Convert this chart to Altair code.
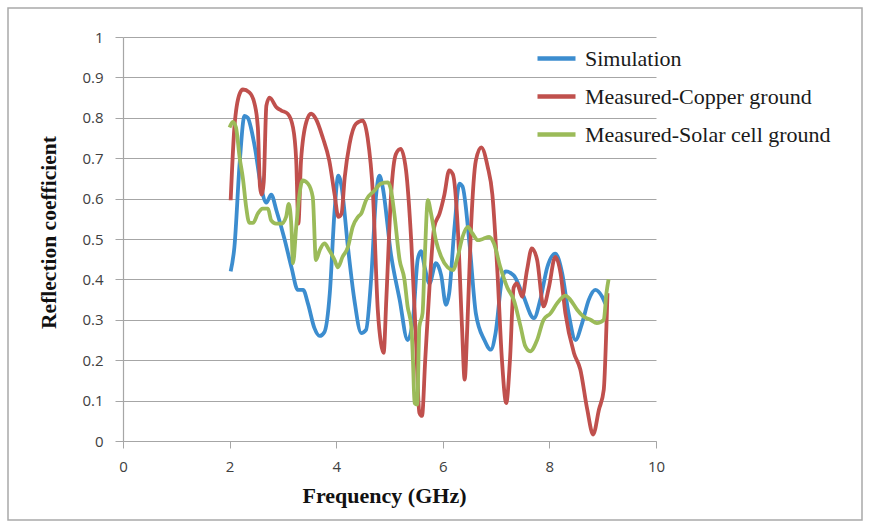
import altair as alt
import pandas as pd

# Reflection coefficient vs frequency for three series
series_names = ["Simulation", "Measured-Copper ground", "Measured-Solar cell ground"]
series_colors = ["#3C8DCF", "#C0504D", "#9BBB59"]

sim_freq = [2.02, 2.09, 2.19, 2.28, 2.34, 2.47, 2.59, 2.69, 2.78, 2.88, 3.03, 3.16, 3.28, 3.38,
            3.47, 3.59, 3.69, 3.78, 3.88, 3.97, 4.04, 4.10, 4.22, 4.34, 4.47, 4.56, 4.66, 4.75,
            4.81, 4.87, 5.03, 5.19, 5.34, 5.44, 5.53, 5.59, 5.66, 5.75, 5.87, 5.97, 6.06, 6.12,
            6.22, 6.31, 6.37, 6.50, 6.62, 6.78, 6.90, 6.99, 7.11, 7.18, 7.33, 7.49, 7.71, 7.83,
            7.96, 8.11, 8.24, 8.36, 8.49, 8.61, 8.74, 8.86, 8.99, 9.05]
sim_val = [0.42, 0.48, 0.69, 0.805, 0.80, 0.73, 0.63, 0.59, 0.61, 0.57, 0.50, 0.43, 0.374, 0.374,
           0.34, 0.28, 0.26, 0.27, 0.366, 0.57, 0.657, 0.63, 0.48, 0.35, 0.267, 0.275, 0.41, 0.61,
           0.657, 0.63, 0.46, 0.35, 0.25, 0.30, 0.45, 0.47, 0.43, 0.39, 0.44, 0.41, 0.337, 0.366,
           0.53, 0.637, 0.63, 0.49, 0.316, 0.25, 0.226, 0.267, 0.40, 0.42, 0.41, 0.366, 0.304, 0.35,
           0.43, 0.464, 0.415, 0.316, 0.25, 0.29, 0.35, 0.374, 0.357, 0.34]

cu_freq = [2.02, 2.09, 2.19, 2.25, 2.37, 2.47, 2.53, 2.57, 2.60, 2.64, 2.69, 2.75, 2.88, 2.97,
           3.09, 3.19, 3.25, 3.29, 3.34, 3.44, 3.53, 3.62, 3.75, 3.87, 3.97, 4.04, 4.10, 4.16,
           4.25, 4.37, 4.50, 4.59, 4.69, 4.78, 4.84, 4.89, 4.94, 5.03, 5.12, 5.21, 5.31, 5.41,
           5.50, 5.56, 5.61, 5.67, 5.75, 5.84, 5.94, 6.03, 6.12, 6.19, 6.28, 6.36, 6.41, 6.46,
           6.53, 6.62, 6.72, 6.84, 6.93, 7.02, 7.11, 7.19, 7.26, 7.33, 7.39, 7.49, 7.58, 7.67,
           7.77, 7.89, 7.99, 8.11, 8.21, 8.30, 8.46, 8.58, 8.71, 8.82, 8.93, 9.02, 9.07, 9.09]
cu_val = [0.596, 0.776, 0.86, 0.87, 0.863, 0.834, 0.776, 0.63, 0.61, 0.64, 0.83, 0.85, 0.826, 0.818,
          0.81, 0.776, 0.694, 0.538, 0.694, 0.79, 0.81, 0.797, 0.75, 0.694, 0.61, 0.555, 0.563, 0.653,
          0.735, 0.785, 0.793, 0.75, 0.61, 0.325, 0.242, 0.218, 0.35, 0.61, 0.71, 0.723, 0.67, 0.49,
          0.24, 0.07, 0.062, 0.2, 0.38, 0.53, 0.563, 0.61, 0.67, 0.66, 0.53, 0.283, 0.152, 0.283,
          0.53, 0.694, 0.727, 0.68, 0.61, 0.43, 0.2, 0.094, 0.2, 0.38, 0.39, 0.357, 0.423, 0.477,
          0.448, 0.333, 0.38, 0.456, 0.415, 0.316, 0.218, 0.177, 0.078, 0.016, 0.078, 0.127, 0.283, 0.366]

sol_freq = [2.00, 2.06, 2.12, 2.19, 2.25, 2.31, 2.37, 2.44, 2.53, 2.62, 2.72, 2.78, 2.87, 2.97,
            3.06, 3.11, 3.16, 3.19, 3.25, 3.31, 3.37, 3.47, 3.56, 3.62, 3.69, 3.78, 3.87, 3.97,
            4.03, 4.12, 4.22, 4.31, 4.41, 4.47, 4.56, 4.72, 4.84, 4.97, 5.03, 5.09, 5.19, 5.28,
            5.34, 5.41, 5.44, 5.47, 5.52, 5.56, 5.62, 5.66, 5.72, 5.78, 5.87, 5.97, 6.09, 6.19,
            6.28, 6.37, 6.47, 6.56, 6.66, 6.75, 6.87, 6.96, 7.08, 7.21, 7.33, 7.46, 7.55, 7.64,
            7.77, 7.89, 8.02, 8.14, 8.30, 8.39, 8.52, 8.64, 8.77, 8.89, 9.02, 9.07, 9.11]
sol_val = [0.776, 0.79, 0.776, 0.70, 0.65, 0.58, 0.54, 0.54, 0.563, 0.575, 0.575, 0.546, 0.538, 0.538,
           0.555, 0.587, 0.53, 0.44, 0.53, 0.61, 0.645, 0.637, 0.604, 0.448, 0.472, 0.489, 0.472, 0.448,
           0.43, 0.456, 0.48, 0.53, 0.555, 0.563, 0.596, 0.62, 0.637, 0.64, 0.62, 0.563, 0.448, 0.40,
           0.333, 0.283, 0.20, 0.094, 0.09, 0.283, 0.316, 0.448, 0.596, 0.563, 0.497, 0.456, 0.43, 0.423,
           0.456, 0.505, 0.53, 0.513, 0.497, 0.50, 0.505, 0.489, 0.43, 0.38, 0.35, 0.283, 0.234, 0.222,
           0.25, 0.30, 0.316, 0.34, 0.36, 0.35, 0.325, 0.308, 0.30, 0.292, 0.30, 0.366, 0.40]

x_ticks = [0, 2, 4, 6, 8, 10]
y_ticks = [0, 0.1, 0.2, 0.3, 0.4, 0.5, 0.6, 0.7, 0.8, 0.9, 1]

rows = []
for name, fs, vs in zip(series_names, [sim_freq, cu_freq, sol_freq], [sim_val, cu_val, sol_val]):
    assert len(fs) == len(vs)
    for i, (f, v) in enumerate(zip(fs, vs)):
        rows.append({"series": name, "order": i, "freq": f, "value": v})
df = pd.DataFrame(rows)

W, H = 533, 404
GRID = "#a6a6a6"

lines = alt.Chart(df).mark_line(strokeWidth=3.8, interpolate="monotone").encode(
    x=alt.X("freq:Q",
            scale=alt.Scale(domain=[0, 10], nice=False),
            axis=alt.Axis(values=x_ticks, grid=False, title="Frequency (GHz)", labelFlush=False,
                          titleX=261, titleY=54, titleBaseline="middle",
                          titleFont="Liberation Serif", titleFontSize=22, titleFontWeight="bold",
                          titleColor="#111111")),
    y=alt.Y("value:Q",
            scale=alt.Scale(domain=[0, 1], nice=False),
            axis=alt.Axis(values=y_ticks, format="~g", title="Reflection coefficient",
                          titleX=-74, titleY=195, titleAngle=270, titleAlign="center",
                          titleBaseline="middle",
                          titleFont="Liberation Serif", titleFontSize=21.5, titleFontWeight="bold",
                          titleColor="#111111", tickSize=8, labelPadding=12)),
    color=alt.Color("series:N",
                    scale=alt.Scale(domain=series_names, range=series_colors),
                    legend=alt.Legend(orient="none", legendX=412, legendY=0, title=None,
                                      symbolType="stroke", symbolSize=1444,
                                      symbolStrokeWidth=4.5, labelFont="Liberation Serif",
                                      labelFontSize=22, labelColor="#1a1a1a", labelLimit=0,
                                      labelOffset=7, rowPadding=5, padding=0)),
    detail="series:N",
    order="order:Q",
)

frame = alt.Chart(pd.DataFrame({"k": [0]})).mark_rect(
    fill="white", fillOpacity=0, stroke="#a9a9a9", strokeWidth=1.5
).encode(
    x=alt.value(-115), x2=alt.value(739), y=alt.value(-29), y2=alt.value(483)
)

chart = alt.layer(frame, lines).properties(
    width=W, height=H,
    autosize=alt.AutoSizeParams(type="none"),
    padding={"left": 123, "top": 37, "right": 215, "bottom": 84},
).configure_view(stroke=None).configure_axis(
    domainColor=GRID, tickColor=GRID, gridColor=GRID, gridWidth=1, domainWidth=1.2,
    labelFont="Open Sans", labelFontSize=15, labelColor="#404040",
).configure_axisX(tickSize=7, labelPadding=11)

chart.save("out.html", embed_options={"renderer": "svg", "actions": False})
